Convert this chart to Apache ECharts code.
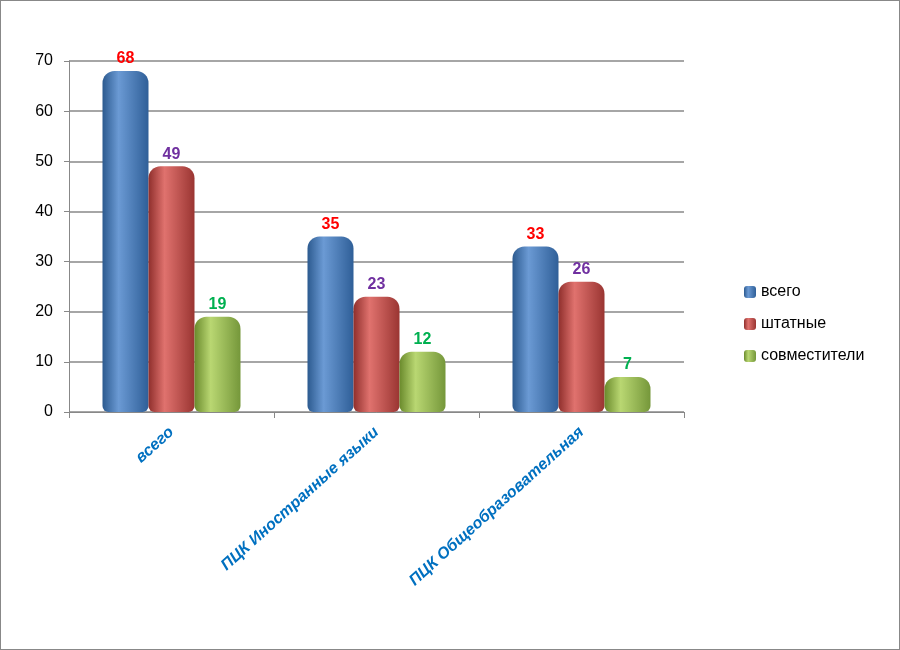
<!DOCTYPE html>
<html><head><meta charset="utf-8">
<script src="https://cdn.jsdelivr.net/npm/echarts@6/dist/echarts.min.js"></script>
<style>body{margin:0}#c{width:898px;height:648px;border:1px solid #888;background:#fff}</style>
</head><body><div id="c"></div>
<script>
const categories = ['всего', 'ПЦК Иностранные языки', 'ПЦК Общеобразовательная'];
const seriesNames = ['всего', 'штатные', 'совместители'];
const vsego = [68, 35, 33];
const shtatnye = [49, 23, 26];
const sovmest = [19, 12, 7];
const yTicks = [0, 10, 20, 30, 40, 50, 60, 70];

const colors = [['#2c5a8f','#6b9ad4','#2f5f98'],['#8f2f2c','#e0726e','#9a3532'],['#6a8a2c','#b9d772','#75973a']];
const labelColors = ['#ff0000','#7030a0','#00b050'];
const data = [vsego, shtatnye, sovmest];
function grad(c){return new echarts.graphic.LinearGradient(0,0,1,0,[{offset:0,color:c[0]},{offset:0.35,color:c[1]},{offset:1,color:c[2]}]);}
const chart = echarts.init(document.getElementById('c'));
chart.setOption({
  animation:false,
  grid:{left:68,right:215,top:60,bottom:237},
  legend:{orient:'vertical',left:738,top:278,itemGap:16,itemWidth:12,itemHeight:12,
    textStyle:{fontSize:16,color:'#000',fontFamily:'Liberation Sans'},data:seriesNames},
  xAxis:{type:'category',data:categories,
    axisLine:{lineStyle:{color:'#888'}},axisTick:{show:true,lineStyle:{color:'#888'},length:6},
    axisLabel:{rotate:42,interval:0,fontSize:16,fontWeight:'bold',fontStyle:'italic',color:'#0070c0',margin:18,fontFamily:'Liberation Sans'}},
  yAxis:{type:'value',min:0,max:70,interval:10,
    axisLine:{show:true,lineStyle:{color:'#888'}},axisTick:{show:true,lineStyle:{color:'#888'}},
    axisLabel:{fontSize:16,color:'#000',margin:16,fontFamily:'Liberation Sans',
      formatter:v=>yTicks.includes(v)?String(v):''},
    splitLine:{lineStyle:{color:'#888',width:1.5}}},
  series:seriesNames.map((n,i)=>({
    name:n,type:'bar',data:data[i],barWidth:46,barGap:'0%',
    itemStyle:{color:grad(colors[i]),borderRadius:[12,12,6,6]},
    label:{show:true,position:'top',fontSize:16,fontWeight:'bold',color:labelColors[i],fontFamily:'Liberation Sans',distance:4}
  }))
});
</script></body></html>
